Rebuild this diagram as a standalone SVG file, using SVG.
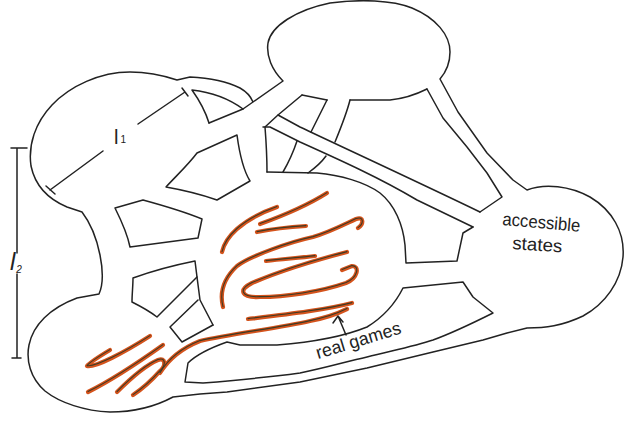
<svg xmlns="http://www.w3.org/2000/svg" width="632" height="421" viewBox="0 0 632 421">
<style>
.ln{fill:none;stroke:#222;stroke-width:1.5;stroke-linejoin:round;stroke-linecap:round}
.og{fill:none;stroke:#d4531c;stroke-width:4.2;stroke-linecap:round;stroke-linejoin:round}
.ok{fill:none;stroke:#3d3a24;stroke-width:1.1;stroke-linecap:round;stroke-linejoin:round}
.tx{font-family:"Liberation Sans",Arial,sans-serif;fill:#222}
</style>
<defs>
<g id="strokes">
<path d="M222,252 C225,238 240,220 277,207"/>
<path d="M260,224 C285,215 308,205 327,193"/>
<path d="M257,232 C272,229 290,227 306,226"/>
<path d="M223,307 C220,295 222,280 237,266 C250,256 290,242 313,237 C330,232 345,224 356,219 C364,216 364,224 358,228"/>
<path d="M266,261 C283,259 298,258 315,256"/>
<path d="M347,252 C320,259 280,271 252,283 C238,290 241,298 260,297 C285,297 320,292 346,283 C358,278 360,266 352,266 L342,270"/>
<path d="M248,319 C290,314 325,310 352,303"/>
<path d="M160,373 C168,360 180,349 200,341 C230,334 280,328 310,321 C325,318 337,314 347,309"/>
<path d="M110,350 C100,356 90,362 87,366 C95,368 125,352 150,336"/>
<path d="M88,392 C108,382 132,367 163,345"/>
<path d="M117,392 C128,381 146,365 158,360 C166,357 166,366 160,371 C152,380 142,389 133,395"/>
</g>
</defs>
<rect width="632" height="421" fill="#fff"/>
<g id="outline">
<path class="ln" d="M209,123 L243,109 L253,102 L283,81 C272,70 266,56 268,43 C271,26 296,10 330,3 C360,-1 392,0 412,8 C436,18 450,35 450,52 C450,64 446,72 440,79 L458,112 L487,153 L513,180 L527,190 C545,183 570,186 590,197 C612,210 625,232 623,257 C621,282 605,304 583,316 C562,326 545,328 527,328 L507,333 L483,340 L433,352 L367,368 L300,382 L227,392 L200,394 L173,397 C160,404 140,412 110,412 C85,411 60,403 45,391 C30,378 26,360 29,345 C33,325 50,308 77,298 L99,294 C103,285 103,270 100,255 C97,240 92,225 82,212 L67,207 C48,199 35,185 31,166 C28,145 35,123 52,105 C70,86 100,72 130,72 C150,72 165,76 177,80 L190,77 C210,78 228,82 240,88 C247,92 251,97 253,102"/>
</g>
<g id="corridors">
<path class="ln" d="M427,89 C415,95 400,99 390,100 L350,100"/>
<path class="ln" d="M302,95 L327,100"/>
<path class="ln" d="M427,89 L443,118 L467,147 L487,173 L502,197 L480,212"/>
<path class="ln" d="M278,115 L300,127 C340,146 420,183 480,212"/>
<path class="ln" d="M263,127 L270,127 L300,142 C340,160 380,178 417,200 L473,227"/>
<path class="ln" d="M302,95 L278,115 L265,127 C266,140 267,155 267,172"/>
<path class="ln" d="M327,100 C322,110 316,122 311,132"/>
<path class="ln" d="M297,141 C294,150 290,160 283,172"/>
<path class="ln" d="M350,100 C347,112 342,125 335,142"/>
<path class="ln" d="M326,156 C321,163 315,168 308,173"/>
<path class="ln" d="M267,172 L317,173 C340,175 365,182 380,193 C395,205 403,225 405,245 L406,263 L457,261 L463,233 L473,227"/>
<path class="ln" d="M463,282 L403,288 C397,300 385,316 367,327 C345,336 315,342 277,345 L240,345 L227,342 C210,348 195,356 188,363 L185,382 L203,383 C240,380 270,377 300,373 C325,368 345,362 367,357 C395,350 415,346 433,340 C455,332 475,322 493,313 L473,297 L463,282"/>
</g>
<g id="holes">
<path class="ln" d="M243,109 C228,98 210,92 192,90 C197,97 205,110 209,123"/>
<path class="ln" d="M197,153 L237,135 C239,150 242,168 250,181 L217,200 C200,194 183,190 166,187 C177,175 188,165 197,153 Z"/>
<path class="ln" d="M115,208 L143,200 C165,206 185,212 202,219 L198,238 C175,241 152,244 130,247 C127,232 121,220 115,208 Z"/>
<path class="ln" d="M133,278 C155,270 175,265 195,261 L197,277 L157,317 C148,310 140,306 132,302 C132,294 133,286 133,278 Z"/>
<path class="ln" d="M197,277 L200,300 L213,325"/>
<path class="ln" d="M198,300 L170,327 L182,342 L213,325"/>
</g>
<g id="real-games">
<use href="#strokes" class="og"/>
<use href="#strokes" class="ok" transform="translate(0,-0.4)"/>
</g>
<g id="dimensions">
<path class="ln" d="M50,190 L103,151 M138,124 L185,92 M46,186 L55,194 M182,88 L188,96"/>
<path class="ln" d="M17,148 L17,253 M17,274 L17,358 M11,148 L27,148 M12,358 L21,358"/>
<path class="ln" d="M346,335 L338,316 M333,323 L338,316 L343,322"/>
</g>
<g id="labels">
<text class="tx" x="114" y="144" font-size="20">l<tspan font-size="10" dx="2" dy="-1">1</tspan></text>
<text class="tx" x="10" y="270" font-size="24" font-style="italic">l<tspan font-size="10" dx="1" dy="3">2</tspan></text>
<text class="tx" x="502" y="225" font-size="18" textLength="78" lengthAdjust="spacingAndGlyphs" transform="rotate(5 502 225)">accessible</text>
<text class="tx" x="512" y="249" font-size="18" textLength="50" lengthAdjust="spacingAndGlyphs" transform="rotate(4 512 249)">states</text>
<text class="tx" x="318" y="359" font-size="18" textLength="88" lengthAdjust="spacingAndGlyphs" transform="rotate(-17 318 359)">real games</text>
</g>
</svg>
